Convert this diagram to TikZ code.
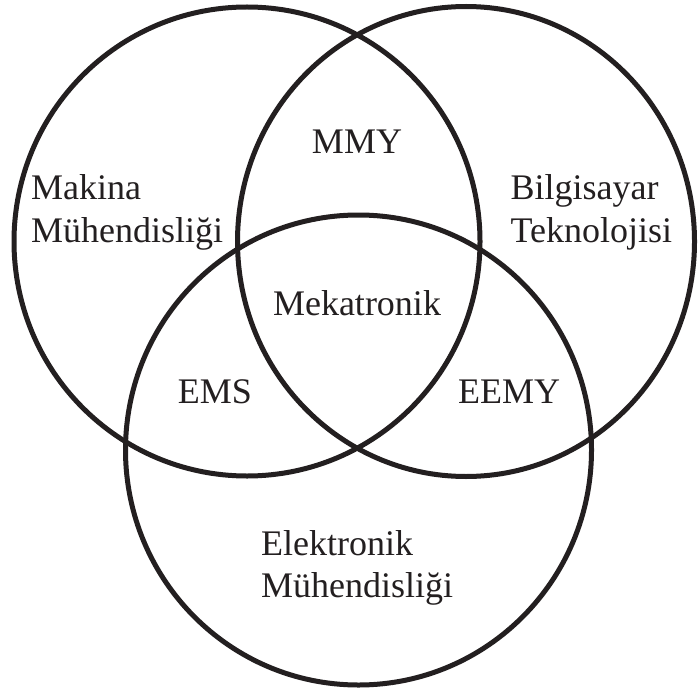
\documentclass[tikz,border=0pt]{standalone}
\usepackage{fontspec}
\setmainfont{Liberation Serif}
\definecolor{ink}{RGB}{35,31,32}
\begin{document}
\begin{tikzpicture}[x=1pt,y=-1pt,
  ring/.style={draw=ink,line width=5pt},
  lbl/.style={inner sep=0pt,text=ink,font=\fontsize{36}{42}\selectfont}]
\useasboundingbox[fill=white] (0,0) rectangle (698,695);
% circles
\draw[ring] (247,241.5) ellipse [x radius=233,y radius=234.5];
\draw[ring] (466,241.5) ellipse [x radius=228.5,y radius=235];
\draw[ring] (358.5,450) ellipse [x radius=233,y radius=235];
% labels
\node[lbl,anchor=base west] (mak1) at (31,199.5) {Makina};
\node[lbl,anchor=base west] (mak2) at (31,242) {Mühendisliği};
\node[lbl,anchor=base west] (bil1) at (510.5,200) {Bilgisayar};
\node[lbl,anchor=base west] (bil2) at (510.5,242) {Teknolojisi};
\node[lbl,anchor=base] (mmy) at (357,154) {MMY};
\node[lbl,anchor=base] (mek) at (357,315) {Mekatronik};
\node[lbl,anchor=base] (ems) at (215,403) {EMS};
\node[lbl,anchor=base] (eemy) at (509,403) {EEMY};
\node[lbl,anchor=base west] (ele1) at (261,555) {Elektronik};
\node[lbl,anchor=base west] (ele2) at (261,597) {Mühendisliği};
\end{tikzpicture}
\end{document}
